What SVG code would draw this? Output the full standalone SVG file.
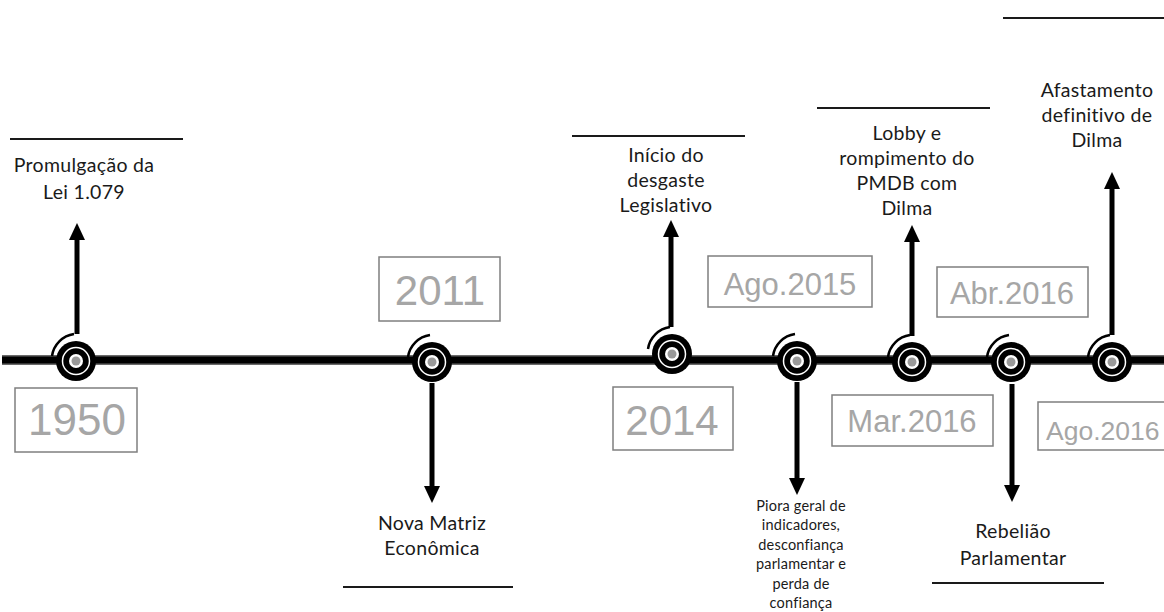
<svg xmlns="http://www.w3.org/2000/svg" width="1164" height="612" viewBox="0 0 1164 612">
<defs>
<style>
.lbl{font-family:Lato,"Open Sans",sans-serif;font-size:19.5px;letter-spacing:0.3px;fill:#1a1a1a;text-anchor:middle}
.sm{font-family:Lato,"Open Sans",sans-serif;font-size:14.5px;letter-spacing:0.2px;fill:#1a1a1a;text-anchor:middle}
.yr{font-family:"Liberation Sans",Arial,sans-serif;fill:#a6a6a6;text-anchor:middle}
.box{fill:#fff;stroke:#7f7f7f;stroke-width:1.5}
.rule{stroke:#1a1a1a;stroke-width:2}
.shaft{stroke:#000;stroke-width:5;marker-end:url(#ah)}
.sw{fill:none;stroke:#000;stroke-width:2.5}
</style>
<marker id="ah" viewBox="0 0 17 16" markerWidth="17" markerHeight="16" refX="0" refY="8" orient="auto" markerUnits="userSpaceOnUse">
<path d="M0,0 L17,8 L0,16 z" fill="#000"/>
</marker>
<g id="knot">
<circle r="20" fill="#000"/>
<circle r="13.5" fill="none" stroke="#fff" stroke-width="1.5"/>
<circle r="7" fill="#fff"/>
<circle r="4.5" fill="#999"/>
<path class="sw" d="M-2,-27 A26 26 0 0 0 -24,-5"/>
</g>
</defs>
<rect width="1164" height="612" fill="#fff"/>

<g id="timeline">
<line x1="2" y1="360" x2="1164" y2="360" stroke="#6a6a6a" stroke-width="10"/>
<line x1="2" y1="360" x2="1164" y2="360" stroke="#000" stroke-width="7"/>
</g>

<g id="connectors">
<line class="shaft" x1="77" y1="334" x2="77" y2="240"/>
<line class="shaft" x1="432" y1="383" x2="432" y2="486"/>
<line class="shaft" x1="671" y1="327" x2="671" y2="237"/>
<line class="shaft" x1="797" y1="382" x2="797" y2="478"/>
<line class="shaft" x1="912" y1="336" x2="912" y2="242"/>
<line class="shaft" x1="1012" y1="384" x2="1012" y2="485"/>
<line class="shaft" x1="1112" y1="335" x2="1112" y2="189"/>
</g>

<g id="n1950">
<use href="#knot" x="76" y="361"/>
<line class="rule" x1="10" y1="139" x2="183" y2="139"/>
<text class="lbl" x="84" y="172">Promulgação da</text>
<text class="lbl" x="84" y="199">Lei 1.079</text>
<rect class="box" x="15" y="388" width="122" height="64"/>
<text class="yr" x="77" y="435" font-size="44">1950</text>
</g>

<g id="n2011">
<use href="#knot" x="432" y="362"/>
<rect class="box" x="379" y="257" width="121" height="64"/>
<text class="yr" x="440" y="305" font-size="42">2011</text>
<text class="lbl" x="432" y="530">Nova Matriz</text>
<text class="lbl" x="432" y="555">Econômica</text>
<line class="rule" x1="343" y1="587" x2="513" y2="587"/>
</g>

<g id="n2014">
<use href="#knot" x="672" y="354"/>
<line class="rule" x1="572" y1="136" x2="745" y2="136"/>
<text class="lbl" x="666" y="162">Início do</text>
<text class="lbl" x="666" y="187">desgaste</text>
<text class="lbl" x="666" y="212">Legislativo</text>
<rect class="box" x="613" y="387" width="120" height="63"/>
<text class="yr" x="672" y="435" font-size="42">2014</text>
</g>

<g id="nAgo2015">
<use href="#knot" x="797" y="361"/>
<rect class="box" x="708" y="256" width="164" height="51"/>
<text class="yr" x="790" y="295" font-size="31">Ago.2015</text>
<text class="sm" x="801" y="511">Piora geral de</text>
<text class="sm" x="801" y="530">indicadores,</text>
<text class="sm" x="801" y="550">desconfiança</text>
<text class="sm" x="801" y="569">parlamentar e</text>
<text class="sm" x="801" y="589">perda de</text>
<text class="sm" x="801" y="608">confiança</text>
</g>

<g id="nMar2016">
<use href="#knot" x="912" y="362"/>
<line class="rule" x1="817" y1="108" x2="990" y2="108"/>
<text class="lbl" x="907" y="140">Lobby e</text>
<text class="lbl" x="907" y="165">rompimento do</text>
<text class="lbl" x="907" y="190">PMDB com</text>
<text class="lbl" x="907" y="215">Dilma</text>
<rect class="box" x="832" y="395" width="161" height="51"/>
<text class="yr" x="912" y="432" font-size="31">Mar.2016</text>
</g>

<g id="nAbr2016">
<use href="#knot" x="1011" y="362"/>
<rect class="box" x="937" y="267" width="151" height="50"/>
<text class="yr" x="1012" y="304" font-size="31">Abr.2016</text>
<text class="lbl" x="1013" y="538">Rebelião</text>
<text class="lbl" x="1013" y="565">Parlamentar</text>
<line class="rule" x1="932" y1="583" x2="1104" y2="583"/>
</g>

<g id="nAgo2016">
<use href="#knot" x="1112" y="362"/>
<line class="rule" x1="1003" y1="18" x2="1164" y2="18"/>
<text class="lbl" x="1097" y="97">Afastamento</text>
<text class="lbl" x="1097" y="122">definitivo de</text>
<text class="lbl" x="1097" y="147">Dilma</text>
<rect class="box" x="1038" y="402" width="150" height="48"/>
<text class="yr" x="1046" y="440" font-size="26.5" style="text-anchor:start">Ago.2016</text>
</g>
</svg>
